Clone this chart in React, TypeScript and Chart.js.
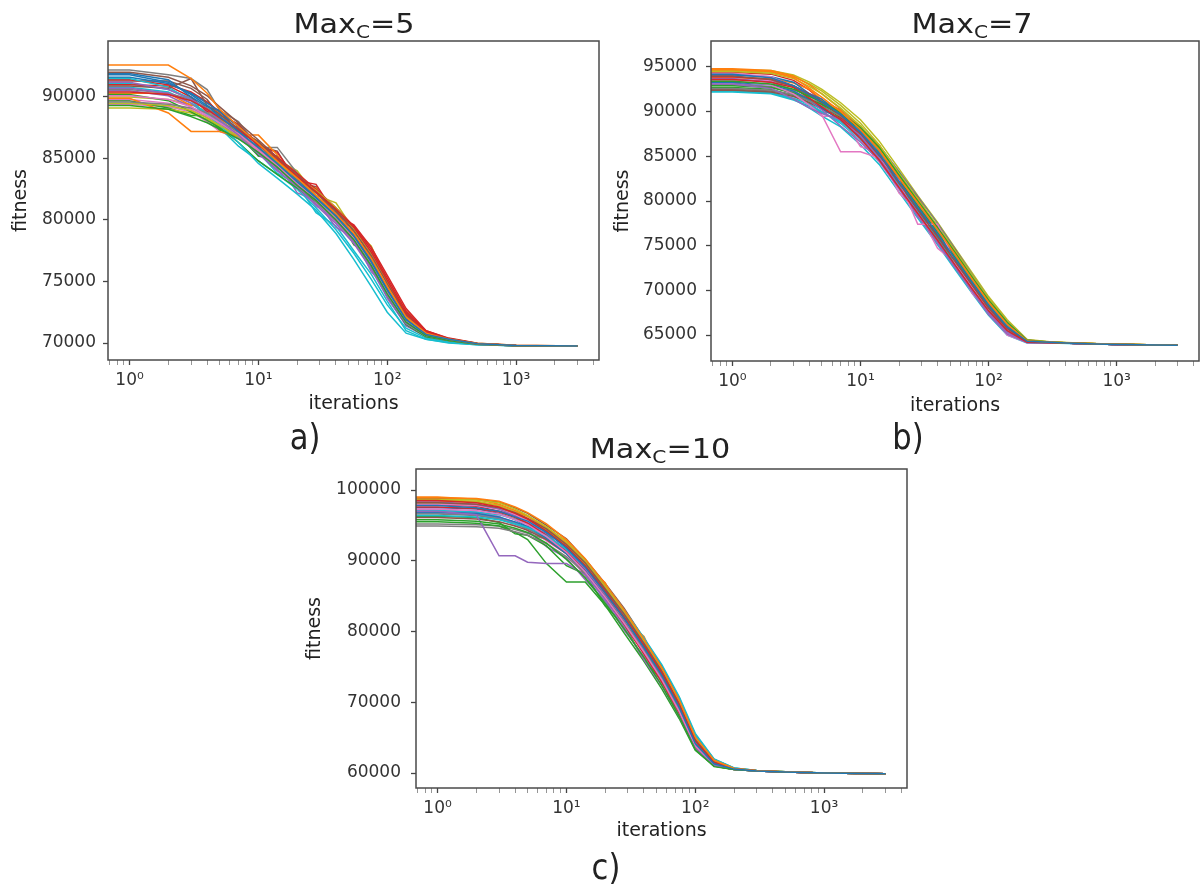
import React, { useEffect, useRef } from 'react';
import { Chart, registerables } from 'chart.js';

Chart.register(...registerables);

// ---------- shared x data ----------
const ITERATIONS = [0.5, 1, 2, 3, 4, 5, 7, 10, 14, 20, 28, 40, 55, 75, 100, 140, 200, 300, 500, 1000, 3000];
const X_MAJOR_TICKS = [1, 10, 100, 1000];
const X_MAJOR_LABELS = ['10⁰', '10¹', '10²', '10³'];
const X_MINOR_TICKS = [0.7, 0.8, 0.9, 2, 3, 4, 5, 6, 7, 8, 9, 20, 30, 40, 50, 60, 70, 80, 90, 200, 300, 400, 500, 600, 700, 800, 900, 2000, 3000, 4000];
const X_RANGE = [0.68, 4400];

const MAXC_VALUES = ['5', '7', '10'];
const PANEL_LABELS = ['a)', 'b)', 'c)'];
const X_TITLE = 'iterations';
const Y_TITLE = 'fitness';

// ---------- panel a: Max_C = 5 ----------
const Y_TICKS_A = [70000, 75000, 80000, 85000, 90000];
const Y_RANGE_A = [68620, 94550];
const SERIES_A = [
  [91800, 91800, 91200, 90200, 89300, 88400, 87200, 85900, 84600, 83100, 81800, 80300, 78700, 76600, 74300, 71900, 70700, 70300, 69950, 69800, 69750],
  [92600, 92600, 92600, 91500, 90300, 89000, 87600, 86200, 84800, 83400, 82000, 80500, 78900, 76900, 74600, 72100, 70800, 70300, 69950, 69800, 69750],
  [89300, 89300, 89000, 88400, 87900, 87400, 86600, 85500, 84300, 82800, 81600, 80000, 78400, 76300, 74000, 71700, 70600, 70200, 69900, 69780, 69750],
  [90400, 90400, 90200, 89700, 89000, 88300, 87300, 86100, 84900, 83500, 82300, 80900, 79400, 77400, 75100, 72400, 70900, 70300, 69950, 69800, 69750],
  [91200, 91200, 90600, 89800, 89000, 88100, 86900, 85400, 84000, 82700, 81300, 79900, 78300, 76200, 73900, 71600, 70600, 70250, 69900, 69780, 69750],
  [90900, 90900, 90700, 91500, 89300, 88600, 87400, 86300, 85000, 83600, 82200, 80700, 79100, 77100, 74800, 72300, 70800, 70300, 69950, 69800, 69750],
  [90100, 90100, 89800, 89200, 88500, 87900, 87000, 85700, 84400, 83000, 81700, 80100, 78500, 76400, 74100, 71800, 70700, 70250, 69920, 69790, 69750],
  [89600, 89600, 89400, 89100, 88700, 88100, 87100, 85800, 84500, 82900, 81500, 80000, 78300, 76300, 73900, 71600, 70600, 70200, 69900, 69780, 69750],
  [89500, 89500, 89300, 88900, 88300, 87700, 86800, 85800, 84700, 83400, 82400, 81000, 79300, 77200, 74900, 72300, 70800, 70300, 69950, 69800, 69750],
  [91500, 91500, 90800, 89700, 88600, 87700, 86300, 84600, 83400, 82100, 80800, 78900, 76800, 74600, 72500, 70800, 70300, 70000, 69850, 69770, 69750],
  [91600, 91600, 91100, 90300, 89500, 88800, 87600, 86200, 84800, 83300, 81900, 80400, 78800, 76700, 74400, 71900, 70700, 70250, 69930, 69790, 69750],
  [89900, 89900, 88700, 87200, 87200, 87200, 86800, 85900, 84700, 83300, 81900, 80400, 78800, 76700, 74400, 71900, 70700, 70300, 69950, 69800, 69750],
  [90200, 90200, 89700, 88800, 88100, 87500, 86300, 84800, 83700, 82600, 81500, 80100, 78400, 76300, 73900, 71500, 70500, 70200, 69900, 69780, 69750],
  [91400, 91400, 91000, 90400, 89600, 88800, 87600, 86300, 85100, 83800, 82500, 81000, 79500, 77600, 75300, 72600, 71000, 70350, 69970, 69800, 69750],
  [90700, 90700, 90300, 89500, 88700, 87900, 86700, 85400, 84100, 82600, 81200, 79700, 78100, 76000, 73700, 71400, 70500, 70200, 69900, 69780, 69750],
  [92000, 92000, 91600, 90900, 90100, 89200, 87900, 86500, 85100, 83700, 82300, 80800, 79200, 77200, 74900, 72200, 70800, 70300, 69950, 69800, 69750],
  [89800, 89800, 89500, 89000, 88400, 87800, 86900, 85600, 84300, 82800, 81400, 79800, 78200, 76100, 73800, 71500, 70600, 70200, 69900, 69780, 69750],
  [90600, 90600, 90300, 89800, 89100, 88400, 87400, 86100, 84700, 83200, 81800, 80300, 78700, 76600, 74200, 71800, 70700, 70250, 69920, 69790, 69750],
  [89100, 89100, 89000, 88700, 88200, 87600, 86700, 85600, 84400, 83000, 81700, 80200, 78600, 76500, 74100, 71700, 70600, 70200, 69900, 69780, 69750],
  [90800, 90800, 90400, 89500, 88500, 87500, 86000, 84800, 83700, 82500, 81000, 79200, 77300, 75200, 73100, 71200, 70400, 70100, 69880, 69770, 69750],
  [91900, 91900, 91400, 90000, 89200, 88900, 87100, 86400, 84200, 83500, 81300, 80600, 78200, 77000, 73800, 72000, 70600, 70300, 69940, 69790, 69750],
  [90300, 90300, 90300, 89300, 89300, 88700, 86900, 86900, 85300, 82600, 82600, 80000, 79100, 76100, 74700, 71700, 70700, 70280, 69930, 69790, 69750],
  [89700, 89700, 89100, 88500, 88500, 87300, 86900, 85200, 85200, 83100, 81500, 80600, 78000, 77100, 74100, 72200, 70800, 70300, 69950, 69800, 69750],
  [91000, 91000, 90900, 90000, 88800, 88800, 87700, 86000, 85500, 83200, 82900, 80400, 79600, 77800, 75500, 72800, 71000, 70400, 69980, 69810, 69750],
  [90500, 90500, 90100, 89200, 88300, 87600, 87600, 85200, 84800, 82200, 81600, 79400, 78600, 75800, 74400, 71400, 70600, 70250, 69920, 69790, 69750],
  [91300, 91300, 91300, 90700, 89800, 88500, 87800, 86000, 85600, 83000, 82700, 80100, 79300, 76900, 74200, 72500, 70900, 70350, 69970, 69800, 69750],
  [89400, 89400, 89200, 88800, 88000, 87200, 86600, 85900, 84000, 83300, 81100, 80700, 78000, 76900, 73600, 71600, 70600, 70230, 69910, 69780, 69750],
  [92200, 92200, 91800, 91500, 90600, 88900, 88000, 85900, 85900, 83800, 81900, 80800, 78500, 77300, 74000, 72300, 70800, 70320, 69950, 69800, 69750],
  [90000, 90000, 89800, 89400, 88800, 88200, 87300, 86400, 84900, 84000, 82000, 81400, 79200, 77900, 75000, 72600, 70950, 70360, 69980, 69810, 69750],
  [91100, 91100, 90600, 89900, 88900, 88000, 86700, 85500, 83800, 82900, 80600, 79500, 77500, 75600, 73400, 71000, 70300, 70050, 69860, 69770, 69750],
];

// ---------- panel b: Max_C = 7 ----------
const Y_TICKS_B = [65000, 70000, 75000, 80000, 85000, 90000, 95000];
const Y_RANGE_B = [62090, 97910];
const SERIES_B = [
  [94200, 94200, 93800, 92900, 91900, 91100, 89700, 87700, 85300, 82200, 79300, 76300, 73500, 70800, 68300, 65900, 64300, 64180, 64060, 63950, 63850],
  [94700, 94700, 94500, 93800, 92600, 91600, 90000, 88000, 85700, 82600, 79800, 76800, 74000, 71200, 68700, 66200, 64350, 64200, 64080, 63960, 63850],
  [93400, 93400, 93100, 92500, 91700, 91100, 89900, 88200, 86000, 82900, 80000, 77000, 74200, 71400, 68900, 66400, 64400, 64200, 64080, 63960, 63850],
  [93600, 93600, 93300, 92700, 91500, 90500, 89100, 87000, 84600, 81500, 78600, 75600, 72800, 70100, 67700, 65500, 64200, 64140, 64050, 63950, 63850],
  [93100, 93100, 92600, 91400, 90400, 89800, 89100, 87300, 84800, 81600, 78700, 75500, 72700, 70000, 67500, 65300, 64150, 64120, 64040, 63940, 63850],
  [94000, 94000, 93600, 92800, 91800, 91000, 89600, 87600, 85200, 82000, 79000, 76000, 73200, 70500, 68000, 65700, 64250, 64150, 64050, 63950, 63850],
  [93500, 93500, 93000, 92000, 90700, 89600, 85500, 85500, 84800, 82300, 77400, 77400, 73000, 70300, 67900, 65600, 64250, 64150, 64050, 63950, 63850],
  [92600, 92600, 92400, 91900, 91200, 90600, 89500, 87800, 85600, 82600, 79700, 76700, 73900, 71100, 68600, 66100, 64300, 64170, 64060, 63950, 63850],
  [94500, 94500, 94300, 93700, 92800, 92000, 90400, 88400, 86000, 82800, 79900, 76900, 74100, 71400, 68900, 66400, 64400, 64220, 64090, 63960, 63850],
  [92200, 92200, 92000, 91300, 90600, 89900, 88900, 87000, 84700, 81700, 78800, 75800, 73000, 70300, 67800, 65500, 64200, 64130, 64040, 63940, 63850],
  [93300, 93300, 93000, 92300, 91300, 90400, 89000, 87200, 84900, 81800, 78900, 75900, 73000, 70300, 67900, 65600, 64250, 64150, 64050, 63950, 63850],
  [94800, 94800, 94600, 94000, 93000, 92000, 90300, 88300, 85900, 82700, 79800, 76800, 74000, 71300, 68800, 66300, 64350, 64200, 64080, 63960, 63850],
  [92900, 92900, 92700, 92100, 91400, 90800, 89700, 88000, 85700, 82500, 79500, 76500, 73700, 70900, 68400, 66000, 64300, 64170, 64060, 63950, 63850],
  [93900, 93900, 93600, 92900, 92000, 91100, 89400, 87300, 85200, 82400, 79300, 76200, 73300, 70500, 68100, 65800, 64300, 64160, 64050, 63950, 63850],
  [93700, 93700, 93300, 92400, 91200, 90200, 88400, 86600, 84500, 81400, 78300, 75300, 72500, 69800, 67300, 65100, 64150, 64120, 64040, 63940, 63850],
  [92400, 92400, 92200, 91700, 91000, 90300, 89200, 87400, 85100, 82100, 79100, 76100, 73300, 70600, 68100, 65800, 64250, 64150, 64050, 63950, 63850],
  [94300, 94300, 93900, 92800, 91600, 90600, 88900, 86900, 84400, 81300, 78400, 75400, 72600, 69900, 67400, 65200, 64150, 64120, 64040, 63940, 63850],
  [93000, 93000, 92800, 92200, 91500, 90900, 89800, 88000, 85600, 82400, 79400, 76400, 73600, 70800, 68300, 65900, 64300, 64160, 64050, 63950, 63850],
  [94600, 94600, 94400, 93900, 93100, 92300, 90700, 88700, 86300, 83100, 80200, 77200, 74400, 71600, 69100, 66500, 64450, 64230, 64090, 63960, 63850],
  [92300, 92300, 92100, 91500, 90800, 90000, 88700, 86800, 84400, 81500, 78600, 75700, 72900, 70200, 67700, 65400, 64200, 64130, 64040, 63940, 63850],
  [94100, 94100, 93900, 93300, 92000, 91400, 89600, 88100, 85000, 82700, 78900, 76800, 73200, 71100, 68000, 66000, 64300, 64180, 64060, 63950, 63850],
  [93800, 93800, 93700, 93200, 92500, 91300, 90100, 87600, 86300, 82200, 80300, 76200, 74300, 70800, 68900, 65900, 64350, 64190, 64070, 63960, 63850],
  [92700, 92700, 92500, 91800, 91000, 90700, 89300, 88400, 85400, 83200, 79300, 77100, 73400, 71500, 68200, 66300, 64300, 64170, 64060, 63950, 63850],
  [94400, 94400, 94200, 93500, 92400, 91200, 90000, 87400, 86200, 81900, 80100, 75900, 74000, 70600, 68500, 65700, 64280, 64160, 64050, 63950, 63850],
  [93200, 93200, 92800, 92000, 90900, 89900, 89900, 86900, 84600, 82500, 78200, 77300, 72600, 71000, 67600, 65900, 64200, 64140, 64050, 63950, 63850],
  [92500, 92500, 92300, 91900, 91300, 90900, 89700, 88300, 86100, 82800, 80300, 76900, 74500, 71200, 68800, 66200, 64400, 64200, 64080, 63960, 63850],
  [94000, 94000, 93400, 92300, 90800, 89500, 89500, 86100, 85400, 80900, 78900, 74700, 73100, 69600, 67700, 65000, 64150, 64120, 64040, 63940, 63850],
  [93600, 93600, 93400, 92900, 91900, 91200, 90200, 88300, 86200, 83300, 80500, 77500, 74600, 71700, 69100, 66500, 64450, 64220, 64090, 63960, 63850],
  [94700, 94700, 94600, 94100, 93300, 92500, 91000, 89100, 86700, 83600, 80600, 77600, 74700, 71900, 69300, 66700, 64500, 64240, 64100, 63970, 63850],
  [92300, 92300, 92100, 91400, 90400, 89500, 88300, 86300, 84100, 81000, 78100, 75100, 72300, 69600, 67200, 65000, 64100, 64100, 64030, 63940, 63850],
];

// ---------- panel c: Max_C = 10 ----------
const Y_TICKS_C = [60000, 70000, 80000, 90000, 100000];
const Y_RANGE_C = [57880, 102970];
const SERIES_C = [
  [97800, 97800, 97500, 97000, 96200, 95600, 94000, 91800, 89100, 85500, 81900, 77700, 73800, 69300, 64200, 61300, 60550, 60300, 60150, 60000, 59900],
  [98900, 98900, 98800, 98400, 97600, 96800, 95200, 93000, 90300, 86700, 83100, 78900, 74900, 70300, 65100, 61800, 60650, 60330, 60160, 60010, 59900],
  [95800, 95800, 95600, 95200, 94600, 94000, 92500, 90200, 87600, 84000, 80400, 76300, 72400, 68000, 63300, 60900, 60500, 60280, 60140, 60000, 59900],
  [98500, 98500, 98200, 97600, 96700, 95900, 94200, 92000, 89300, 85700, 82100, 78000, 74100, 69600, 64500, 61500, 60600, 60310, 60150, 60000, 59900],
  [97000, 97000, 96500, 90700, 90700, 89800, 89600, 89600, 88000, 84500, 80700, 76000, 72300, 68000, 63500, 61100, 60500, 60280, 60140, 60000, 59900],
  [98200, 98200, 98000, 97500, 96800, 96000, 94500, 92300, 89700, 86000, 82500, 78300, 74400, 69800, 64700, 61600, 60600, 60320, 60150, 60000, 59900],
  [97300, 97300, 97100, 96600, 95800, 95100, 93400, 91200, 88400, 84800, 81200, 77100, 73200, 68700, 63800, 61100, 60520, 60290, 60140, 60000, 59900],
  [94900, 94900, 94800, 94600, 94100, 93600, 92400, 90600, 88200, 84900, 81400, 77400, 73600, 69100, 64100, 61300, 60540, 60300, 60150, 60000, 59900],
  [98700, 98700, 98600, 98200, 97300, 96400, 94800, 92700, 90000, 86400, 82800, 78700, 74700, 70100, 64900, 61700, 60640, 60330, 60160, 60010, 59900],
  [96400, 96400, 96200, 95800, 95200, 94700, 93500, 91600, 89200, 85900, 82400, 78500, 74700, 70300, 65300, 61900, 60700, 60340, 60160, 60010, 59900],
  [96900, 96900, 96700, 96200, 95500, 94800, 93200, 91000, 88500, 84900, 81300, 77200, 73300, 68800, 63900, 61200, 60530, 60290, 60140, 60000, 59900],
  [99000, 99000, 98700, 98000, 97100, 96300, 94700, 92500, 89800, 86200, 82600, 78500, 74600, 70000, 64800, 61700, 60620, 60320, 60150, 60000, 59900],
  [95500, 95500, 95300, 94900, 94000, 93000, 89600, 87000, 87000, 83700, 79800, 75800, 71900, 67700, 63200, 61000, 60500, 60280, 60140, 60000, 59900],
  [97600, 97600, 97400, 96900, 96100, 95300, 93600, 91300, 88500, 84700, 81000, 76800, 72900, 68500, 63600, 61000, 60500, 60280, 60140, 60000, 59900],
  [98300, 98300, 98000, 97300, 96300, 95400, 93700, 91500, 88800, 85100, 81500, 77300, 73400, 68900, 63900, 61200, 60530, 60290, 60140, 60000, 59900],
  [96100, 96100, 95900, 95500, 94900, 94300, 93000, 91000, 88600, 85300, 81800, 77800, 74000, 69600, 64600, 61500, 60580, 60310, 60150, 60000, 59900],
  [98000, 98000, 97800, 97300, 96500, 95700, 94100, 91900, 89200, 85600, 81900, 77700, 73700, 69200, 64300, 61300, 60550, 60300, 60150, 60000, 59900],
  [96600, 96600, 96400, 95900, 95200, 94500, 93100, 91000, 88400, 84800, 81200, 77000, 73100, 68600, 63700, 61100, 60520, 60290, 60140, 60000, 59900],
  [98600, 98600, 98400, 97800, 96900, 96000, 94300, 92100, 89500, 85900, 82300, 78200, 74300, 69700, 64500, 61500, 60600, 60310, 60150, 60000, 59900],
  [97100, 97100, 96900, 96500, 95900, 95300, 94100, 92300, 89900, 86600, 83100, 79100, 75300, 70800, 65600, 62000, 60700, 60340, 60160, 60010, 59900],
  [97500, 97500, 97300, 96700, 95800, 94800, 93900, 91100, 89600, 84900, 82400, 76900, 74200, 68600, 64700, 61200, 60550, 60300, 60150, 60000, 59900],
  [98400, 98400, 98300, 97800, 96900, 96300, 94400, 92900, 89400, 86900, 81700, 79300, 73800, 70700, 64400, 61700, 60620, 60320, 60150, 60000, 59900],
  [96300, 96300, 96100, 95400, 93800, 93600, 92100, 89300, 88100, 83600, 81000, 75900, 73100, 67900, 63700, 61000, 60500, 60280, 60140, 60000, 59900],
  [97900, 97900, 97700, 97000, 96400, 95100, 93500, 91600, 88000, 85200, 80700, 77900, 72800, 69500, 63900, 61300, 60530, 60290, 60140, 60000, 59900],
  [96800, 96800, 96600, 96100, 95400, 94300, 92000, 90400, 87300, 84300, 80200, 76500, 72800, 68300, 63600, 61100, 60510, 60290, 60140, 60000, 59900],
  [98800, 98800, 98700, 98300, 97500, 96700, 95000, 93100, 90200, 86800, 83300, 79000, 75100, 70600, 65400, 61900, 60680, 60340, 60160, 60010, 59900],
  [97200, 97200, 96900, 96300, 94900, 94900, 92800, 91000, 87900, 85000, 80800, 77400, 72700, 68900, 63600, 61100, 60520, 60290, 60140, 60000, 59900],
  [95200, 95200, 95100, 94900, 94400, 93900, 93000, 91300, 88900, 85600, 82100, 78100, 74300, 69900, 64900, 61600, 60600, 60310, 60150, 60000, 59900],
  [98100, 98100, 97900, 97400, 96600, 95800, 94400, 92400, 89700, 86300, 82700, 78600, 74800, 70200, 65000, 61700, 60640, 60330, 60160, 60010, 59900],
  [96700, 96700, 96500, 96000, 95300, 94600, 93300, 91400, 89000, 85800, 82200, 78300, 74500, 70000, 65100, 61800, 60650, 60330, 60160, 60010, 59900],
];

const TAB10 = ['#1f77b4', '#ff7f0e', '#2ca02c', '#d62728', '#9467bd', '#8c564b', '#e377c2', '#7f7f7f', '#bcbd22', '#17becf'];

const FONT = 'DejaVu Sans';

type Layout = {
  left: number; top: number; width: number; height: number;
  padTop: number; padRight: number; yAxisW: number; xAxisH: number;
  xTitlePad: number; yTitlePad: number; yTickPad: number;
};

const framePlugin = {
  id: 'frame',
  afterDatasetsDraw(chart: any) {
    const { ctx, chartArea } = chart;
    const { left, top, right, bottom } = chartArea;
    ctx.save();
    ctx.strokeStyle = '#4a4a4a';
    ctx.lineWidth = 1.5;
    ctx.strokeRect(left, top, right - left, bottom - top);
    ctx.restore();
  },
};

function isMajor(v: number) {
  return X_MAJOR_TICKS.indexOf(v) >= 0;
}

function makeConfig(series: number[][], yTicks: number[], yRange: number[], lay: Layout): any {
  return {
    type: 'line',
    data: {
      datasets: series.map((vals, i) => ({
        data: ITERATIONS.map((x, j) => ({ x, y: vals[j] })),
        borderColor: TAB10[i % TAB10.length],
        borderWidth: 1.5,
        pointRadius: 0,
        tension: 0,
        fill: false,
      })),
    },
    options: {
      animation: false,
      responsive: false,
      maintainAspectRatio: false,
      events: [],
      layout: { padding: { top: lay.padTop, right: lay.padRight, left: 0, bottom: 0 } },
      plugins: {
        legend: { display: false },
        tooltip: { enabled: false },
        title: { display: false },
      },
      scales: {
        x: {
          type: 'logarithmic',
          min: X_RANGE[0],
          max: X_RANGE[1],
          afterBuildTicks: (scale: any) => {
            scale.ticks = [...X_MINOR_TICKS, ...X_MAJOR_TICKS]
              .sort((a, b) => a - b)
              .map((v) => ({ value: v }));
          },
          afterFit: (scale: any) => {
            scale.height = lay.xAxisH;
          },
          border: { display: false },
          grid: {
            drawOnChartArea: false,
            drawTicks: true,
            tickLength: 5,
            tickColor: (ctx: any) => (ctx.tick && isMajor(ctx.tick.value) ? '#444' : '#8a8a8a'),
            tickWidth: (ctx: any) => (ctx.tick && isMajor(ctx.tick.value) ? 1.3 : 0.9),
          },
          ticks: {
            autoSkip: false,
            maxRotation: 0,
            minRotation: 0,
            padding: 5,
            color: '#333',
            font: { family: FONT, size: 17 },
            callback: (value: any) => {
              const i = X_MAJOR_TICKS.indexOf(Number(value));
              return i >= 0 ? X_MAJOR_LABELS[i] : '';
            },
          },
          title: {
            display: true,
            text: X_TITLE,
            color: '#222',
            font: { family: FONT, size: 19 },
            padding: { top: 0, bottom: lay.xTitlePad },
          },
        },
        y: {
          type: 'linear',
          min: yRange[0],
          max: yRange[1],
          afterBuildTicks: (scale: any) => {
            scale.ticks = yTicks.map((v) => ({ value: v }));
          },
          afterFit: (scale: any) => {
            scale.width = lay.yAxisW;
          },
          border: { display: false },
          grid: {
            drawOnChartArea: false,
            drawTicks: true,
            tickLength: 5,
            tickColor: '#444',
            tickWidth: 1.3,
          },
          ticks: {
            padding: lay.yTickPad,
            color: '#333',
            font: { family: FONT, size: 17 },
            callback: (value: any) => String(value),
          },
          title: {
            display: true,
            text: Y_TITLE,
            color: '#222',
            font: { family: FONT, size: 19 },
            padding: { top: lay.yTitlePad, bottom: 0 },
          },
        },
      },
    },
    plugins: [framePlugin],
  };
}

function Panel({ series, yTicks, yRange, lay }: { series: number[][]; yTicks: number[]; yRange: number[]; lay: Layout }) {
  const ref = useRef<HTMLCanvasElement>(null);
  useEffect(() => {
    const chart = new Chart(ref.current as HTMLCanvasElement, makeConfig(series, yTicks, yRange, lay));
    return () => chart.destroy();
  }, []);
  return (
    <canvas
      ref={ref}
      width={lay.width}
      height={lay.height}
      style={{ position: 'absolute', left: lay.left, top: lay.top, width: lay.width, height: lay.height }}
    />
  );
}

function Title({ cx, baseline, value }: { cx: number; baseline: number; value: string }) {
  return (
    <div
      style={{
        position: 'absolute',
        left: cx - 200,
        top: baseline - 22.8,
        width: 400,
        textAlign: 'center',
        fontFamily: FONT,
        fontSize: 27,
        lineHeight: '27px',
        color: '#222',
        transform: 'scaleX(1.12)',
        whiteSpace: 'nowrap',
      }}
    >
      Max<span style={{ fontSize: 18, position: 'relative', top: 5 }}>C</span>={value}
    </div>
  );
}

function PanelLabel({ cx, top, text }: { cx: number; top: number; text: string }) {
  return (
    <div
      style={{
        position: 'absolute',
        left: cx - 50,
        top,
        width: 100,
        textAlign: 'center',
        fontFamily: FONT,
        fontSize: 36,
        lineHeight: '36px',
        color: '#222',
        transform: 'scaleX(0.85)',
      }}
    >
      {text}
    </div>
  );
}

const LAYOUT_A: Layout = { left: 0, top: 0, width: 604, height: 420, padTop: 41, padRight: 5, yAxisW: 108, xAxisH: 60, xTitlePad: 5, yTitlePad: 10, yTickPad: 7 };
const LAYOUT_B: Layout = { left: 600, top: 0, width: 601, height: 421, padTop: 41, padRight: 2, yAxisW: 111, xAxisH: 60, xTitlePad: 4, yTitlePad: 12, yTickPad: 9 };
const LAYOUT_C: Layout = { left: 300, top: 440, width: 612, height: 408, padTop: 29, padRight: 5, yAxisW: 116, xAxisH: 60, xTitlePad: 6, yTitlePad: 4, yTickPad: 10 };

export default function App() {
  return (
    <div style={{ position: 'absolute', left: 0, top: 0, width: 1201, height: 884, background: '#fff', overflow: 'hidden' }}>
      <Panel series={SERIES_A} yTicks={Y_TICKS_A} yRange={Y_RANGE_A} lay={LAYOUT_A} />
      <Panel series={SERIES_B} yTicks={Y_TICKS_B} yRange={Y_RANGE_B} lay={LAYOUT_B} />
      <Panel series={SERIES_C} yTicks={Y_TICKS_C} yRange={Y_RANGE_C} lay={LAYOUT_C} />
      <Title cx={353.5} baseline={33} value={MAXC_VALUES[0]} />
      <Title cx={972} baseline={33} value={MAXC_VALUES[1]} />
      <Title cx={660} baseline={458} value={MAXC_VALUES[2]} />
      <PanelLabel cx={305} top={419} text={PANEL_LABELS[0]} />
      <PanelLabel cx={908} top={419} text={PANEL_LABELS[1]} />
      <PanelLabel cx={606} top={849} text={PANEL_LABELS[2]} />
    </div>
  );
}
